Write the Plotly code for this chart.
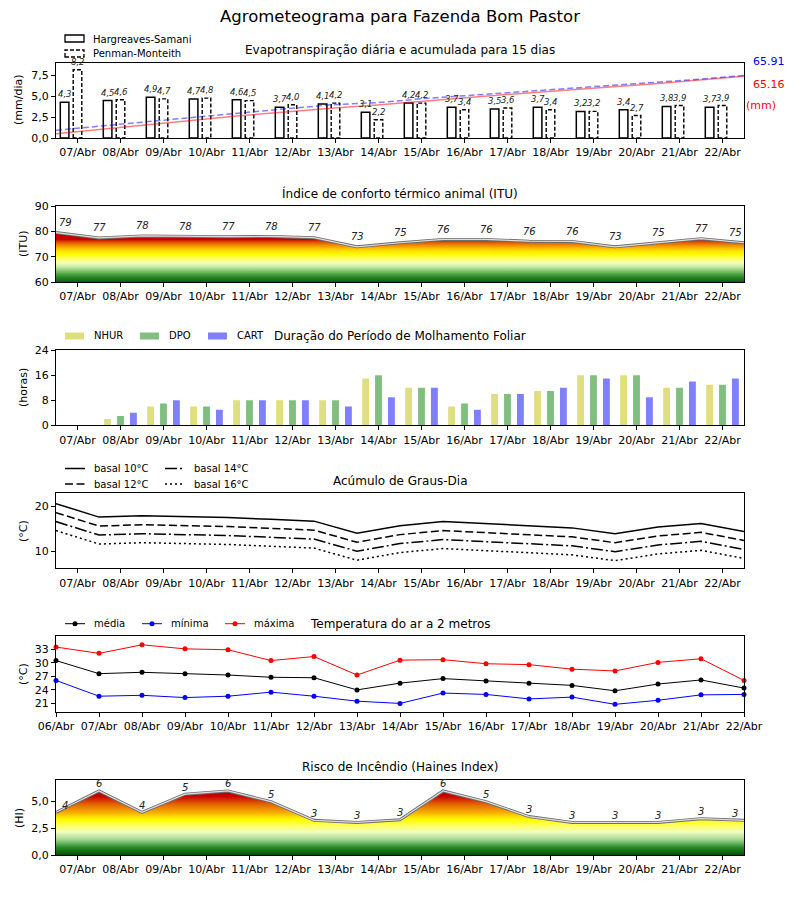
import plotly.graph_objects as go

OFF = 8  # default body margin of the html page
W, H = 800 - OFF, 900 - OFF
def px(x): return (x - OFF) / W
def py(y): return 1 - (y - OFF) / H

FONT = "DejaVu Sans"

# ---------------- data ----------------
day_labels = ['07/Abr', '08/Abr', '09/Abr', '10/Abr', '11/Abr', '12/Abr', '13/Abr', '14/Abr',
              '15/Abr', '16/Abr', '17/Abr', '18/Abr', '19/Abr', '20/Abr', '21/Abr', '22/Abr']
temp_labels = ['06/Abr'] + day_labels

hs_daily = [4.3, 4.5, 4.9, 4.7, 4.6, 3.7, 4.1, 3.1, 4.2, 3.7, 3.5, 3.7, 3.2, 3.4, 3.8, 3.7]
pm_daily = [8.2, 4.6, 4.7, 4.8, 4.5, 4.0, 4.2, 2.2, 4.2, 3.4, 3.6, 3.4, 3.2, 2.7, 3.9, 3.9]
hs_acum = [4.4, 9.0, 14.0, 18.8, 23.5, 27.3, 31.5, 34.7, 39.0, 42.8, 46.4, 50.2, 53.5, 57.0, 60.9, 65.16]
pm_acum = [8.2, 12.8, 17.5, 22.3, 26.8, 30.8, 35.0, 37.3, 41.5, 44.9, 48.5, 51.9, 55.2, 57.9, 61.9, 65.91]

itu = [79.5, 77.4, 78.2, 78.0, 77.9, 78.0, 77.5, 73.9, 75.5, 76.8, 76.8, 76.1, 76.0, 73.9, 75.5, 77.1, 75.5]

nhur = [0, 2, 6, 6, 8, 8, 8, 15, 12, 6, 10, 11, 16, 16, 12, 13]
dpo = [0, 3, 7, 6, 8, 8, 8, 16, 12, 7, 10, 11, 16, 16, 12, 13]
cart = [0, 4, 8, 5, 8, 8, 6, 9, 12, 5, 10, 12, 15, 9, 14, 15]

gd10 = [20.6, 17.6, 17.9, 17.7, 17.5, 17.1, 16.7, 14.0, 15.7, 16.6, 16.1, 15.7, 15.2, 13.9, 15.4, 16.2, 14.4]
gd12 = [18.6, 15.6, 15.9, 15.7, 15.5, 15.1, 14.7, 12.0, 13.7, 14.6, 14.1, 13.7, 13.2, 11.9, 13.4, 14.2, 12.4]
gd14 = [16.6, 13.6, 13.9, 13.7, 13.5, 13.1, 12.7, 10.0, 11.7, 12.6, 12.1, 11.7, 11.2, 9.9, 11.4, 12.2, 10.4]
gd16 = [14.6, 11.6, 11.9, 11.7, 11.5, 11.1, 10.7, 8.0, 9.7, 10.6, 10.1, 9.7, 9.2, 7.9, 9.4, 10.2, 8.4]

t_med = [30.5, 27.6, 27.9, 27.6, 27.3, 26.8, 26.7, 24.0, 25.5, 26.5, 26.0, 25.5, 25.0, 23.8, 25.3, 26.2, 24.4]
t_min = [26.1, 22.6, 22.8, 22.3, 22.6, 23.5, 22.6, 21.5, 21.0, 23.3, 23.0, 22.0, 22.4, 20.8, 21.7, 22.9, 23.0]
t_max = [33.5, 32.1, 34.0, 33.1, 32.9, 30.5, 31.4, 27.3, 30.6, 30.7, 29.8, 29.6, 28.6, 28.2, 30.1, 30.9, 26.1]

haines = [4.0, 6.0, 4.0, 5.7, 6.0, 5.0, 3.25, 3.05, 3.3, 6.0, 5.0, 3.6, 3.05, 3.05, 3.05, 3.4, 3.25]

n_days = len(day_labels)
pts = list(range(len(temp_labels)))          # 0..16
day_ticks = [i + 0.5 for i in range(n_days)]

def br(v):
    return f"{v:.1f}".replace('.', ',')

fig = go.Figure()
annotations = []
shapes = []

# ---------------- panel domains ----------------
XD = [px(56), px(744)]
dom = {
    1: [py(138), py(63)],
    2: [py(282), py(206)],
    3: [py(425.3), py(350.3)],
    4: [py(568.3), py(493.3)],
    5: [py(712), py(636)],
    6: [py(855), py(780.3)],
}

LBL = dict(size=8.5, family=FONT, color='#222', style='italic')

# ---------------- panel 1: ET ----------------
fig.add_trace(go.Bar(x=[i + 0.2 for i in range(n_days)], y=hs_daily, width=0.2,
                     marker=dict(color='white', line=dict(color='black', width=1.5)),
                     xaxis='x', yaxis='y', showlegend=False))
px_poly, py_poly = [], []
for i, v in enumerate(pm_daily):
    px_poly += [i + 0.4, i + 0.4, i + 0.6, i + 0.6, i + 0.4, None]
    py_poly += [0, v, v, 0, 0, None]
fig.add_trace(go.Scatter(x=px_poly, y=py_poly, mode='lines', fill='toself', fillcolor='white',
                         line=dict(color='black', width=1.4, dash='4px,2px'),
                         xaxis='x', yaxis='y', showlegend=False))
for i, v in enumerate(hs_daily):
    annotations.append(dict(x=i + 0.2, y=v, xref='x', yref='y', text=br(v), showarrow=False,
                            xanchor='center', yanchor='bottom', yshift=1, font=LBL))
for i, v in enumerate(pm_daily):
    annotations.append(dict(x=i + 0.5, y=v, xref='x', yref='y', text=br(v), showarrow=False,
                            xanchor='center', yanchor='bottom', yshift=1, font=LBL))

fig.add_trace(go.Scatter(x=list(range(n_days)), y=hs_acum, mode='lines',
                         line=dict(color='rgba(255,0,0,0.5)', width=1.5),
                         xaxis='x7', yaxis='y7', showlegend=False))
fig.add_trace(go.Scatter(x=list(range(n_days)), y=pm_acum, mode='lines',
                         line=dict(color='rgba(0,0,255,0.5)', width=1.5, dash='6px,3px'),
                         xaxis='x7', yaxis='y7', showlegend=False))
annotations += [
    dict(x=px(769), y=py(62), xref='paper', yref='paper', text=f"{pm_acum[-1]:.2f}", showarrow=False,
         xanchor='center', yanchor='middle', font=dict(size=11, family=FONT, color='blue')),
    dict(x=px(769), y=py(85), xref='paper', yref='paper', text=f"{hs_acum[-1]:.2f}", showarrow=False,
         xanchor='center', yanchor='middle', font=dict(size=11, family=FONT, color='red')),
    dict(x=px(761), y=py(106), xref='paper', yref='paper', text="(mm)", showarrow=False,
         xanchor='center', yanchor='middle', font=dict(size=11, family=FONT, color='red')),
]

# ---------------- panel 2: ITU ----------------
itu_cs = [
    [0.000, '#0a5f0a'], [0.075, '#1f7d1f'], [0.150, '#49a040'], [0.225, '#88c870'],
    [0.300, '#c8eca8'], [0.375, '#f0ffb8'], [0.450, '#ffff70'], [0.525, '#ffff10'],
    [0.600, '#ffe800'], [0.650, '#fcc800'], [0.700, '#f5a000'], [0.750, '#e87800'],
    [0.800, '#d84000'], [0.840, '#c80000'], [1.000, '#c00000']]
fig.add_trace(go.Scatter(x=pts, y=itu, mode='lines', line=dict(width=0), fill='tozeroy',
                         fillgradient=dict(type='vertical', colorscale=itu_cs, start=60, stop=80),
                         xaxis='x2', yaxis='y2', showlegend=False))
fig.add_trace(go.Scatter(x=pts, y=itu, mode='lines', line=dict(color='#6e6e6e', width=3),
                         xaxis='x2', yaxis='y2', showlegend=False))
fig.add_trace(go.Scatter(x=pts, y=itu, mode='lines', line=dict(color='#dcdcdc', width=1.2),
                         xaxis='x2', yaxis='y2', showlegend=False))
for i, v in enumerate(itu):
    xs = 9 if i == 0 else (-9 if i == len(itu) - 1 else 0)
    annotations.append(dict(x=i, y=v, xref='x2', yref='y2', text=str(int(v)), showarrow=False,
                            xanchor='center', yanchor='middle', yshift=10, xshift=xs,
                            font=dict(size=10, family=FONT, color='#222', style='italic')))

# ---------------- panel 3: molhamento ----------------
for vals, off, col in [(nhur, 0.2, '#dfdf80'), (dpo, 0.5, '#80bf80'), (cart, 0.8, '#8080ff')]:
    fig.add_trace(go.Bar(x=[i + off for i in range(n_days)], y=vals, width=0.16,
                         marker=dict(color=col, line=dict(width=0)),
                         xaxis='x3', yaxis='y3', showlegend=False))

# ---------------- panel 4: graus-dia ----------------
for vals, dash in [(gd10, 'solid'), (gd12, '8px,3.5px'), (gd14, '12px,3px,2px,3px'), (gd16, '2px,3px')]:
    fig.add_trace(go.Scatter(x=pts, y=vals, mode='lines', line=dict(color='black', width=1.5, dash=dash),
                             xaxis='x4', yaxis='y4', showlegend=False))

# ---------------- panel 5: temperatura ----------------
for vals, col in [(t_med, 'black'), (t_min, 'blue'), (t_max, 'red')]:
    fig.add_trace(go.Scatter(x=pts, y=vals, mode='lines+markers', line=dict(color=col, width=1),
                             marker=dict(color=col, size=5),
                             xaxis='x5', yaxis='y5', showlegend=False, cliponaxis=False))

# ---------------- panel 6: Haines ----------------
hi_cs = [
    [0.00, '#005200'], [0.12, '#2a8a2a'], [0.24, '#a0d890'], [0.36, '#f2ffc0'],
    [0.46, '#ffff60'], [0.55, '#ffff00'], [0.66, '#f8b000'], [0.80, '#e06000'],
    [0.92, '#c80000'], [1.00, '#c00000']]
fig.add_trace(go.Scatter(x=pts, y=haines, mode='lines', line=dict(width=0), fill='tozeroy',
                         fillgradient=dict(type='vertical', colorscale=hi_cs, start=0, stop=6),
                         xaxis='x6', yaxis='y6', showlegend=False))
fig.add_trace(go.Scatter(x=pts, y=haines, mode='lines', line=dict(color='#6e6e6e', width=3),
                         xaxis='x6', yaxis='y6', showlegend=False))
fig.add_trace(go.Scatter(x=pts, y=haines, mode='lines', line=dict(color='#dcdcdc', width=1.2),
                         xaxis='x6', yaxis='y6', showlegend=False))
for i, v in enumerate(haines):
    xs = 9 if i == 0 else (-9 if i == len(haines) - 1 else 0)
    annotations.append(dict(x=i, y=v, xref='x6', yref='y6', text=str(int(v)), showarrow=False,
                            xanchor='center', yanchor='middle', yshift=7, xshift=xs,
                            font=dict(size=10, family=FONT, color='#222', style='italic')))

# ---------------- axes ----------------
axcommon = dict(showline=True, mirror=True, linecolor='black', linewidth=1.2, ticks='outside',
                ticklen=4, tickwidth=1, tickcolor='black', showgrid=False, zeroline=False,
                automargin=False, tickfont=dict(size=11, family=FONT, color='black'))
layout = {}
for k in range(1, 7):
    xn = 'xaxis' if k == 1 else f'xaxis{k}'
    yn = 'yaxis' if k == 1 else f'yaxis{k}'
    yref = 'y' if k == 1 else f'y{k}'
    xref = 'x' if k == 1 else f'x{k}'
    if k == 5:
        tv, tt = pts, temp_labels
    else:
        tv, tt = day_ticks, day_labels
    layout[xn] = dict(axcommon, domain=XD, anchor=yref, range=[0, 16], tickvals=tv, ticktext=tt)
    layout[yn] = dict(axcommon, domain=dom[k], anchor=xref)

layout['yaxis'].update(range=[0, 9.02], tickvals=[0, 2.5, 5, 7.5], ticktext=['0,0', '2,5', '5,0', '7,5'])
layout['yaxis2'].update(range=[60, 90], tickvals=[60, 70, 80, 90])
layout['yaxis3'].update(range=[0, 24], tickvals=[0, 8, 16, 24])
layout['yaxis4'].update(range=[6.2, 22.9], tickvals=[10, 20])
layout['yaxis5'].update(range=[19.1, 35.95], tickvals=[21, 24, 27, 30, 33])
layout['yaxis6'].update(range=[0, 7], tickvals=[0, 2.5, 5], ticktext=['0,0', '2,5', '5,0'])
layout['xaxis7'] = dict(overlaying='x', anchor='y7', range=[0, 15], visible=False, domain=XD, automargin=False)
layout['yaxis7'] = dict(overlaying='y', anchor='x7', range=[0, 79.1], visible=False, domain=dom[1], automargin=False)

# ---------------- titles ----------------
annotations.append(dict(x=px(400), y=py(17), xref='paper', yref='paper', text='Agrometeograma para Fazenda Bom Pastor',
                        showarrow=False, xanchor='center', yanchor='middle',
                        font=dict(size=16.5, family=FONT, color='black')))
sub = [(50, 'Evapotranspiração diária e acumulada para 15 dias'),
       (193, 'Índice de conforto térmico animal (ITU)'),
       (336, 'Duração do Período de Molhamento Foliar'),
       (481, 'Acúmulo de Graus-Dia'),
       (624, 'Temperatura do ar a 2 metros'),
       (767, 'Risco de Incêndio (Haines Index)')]
for y, t in sub:
    annotations.append(dict(x=px(400), y=py(y), xref='paper', yref='paper', text=t, showarrow=False,
                            xanchor='center', yanchor='middle', font=dict(size=12, family=FONT, color='black')))
ylab = [(19, 100, '(mm/dia)'), (23, 244, '(ITU)'), (23, 388, '(horas)'), (23, 531, '(°C)'),
        (23, 674, '(°C)'), (19, 818, '(HI)')]
for x, y, t in ylab:
    annotations.append(dict(x=px(x), y=py(y), xref='paper', yref='paper', text=t, showarrow=False,
                            xanchor='center', yanchor='middle',
                            textangle=-90, font=dict(size=11, family=FONT, color='black')))

# ---------------- manual legends ----------------
LF = dict(size=10, family=FONT, color='black')
def leg_text(x, y, t):
    annotations.append(dict(x=px(x), y=py(y), xref='paper', yref='paper', text=t, showarrow=False,
                            xanchor='left', yanchor='middle', font=LF))

# panel 1
shapes.append(dict(type='rect', xref='paper', yref='paper', x0=px(65), x1=px(84), y0=py(42), y1=py(35),
                   line=dict(color='black', width=1.3), fillcolor='white'))
shapes.append(dict(type='rect', xref='paper', yref='paper', x0=px(65), x1=px(84), y0=py(57), y1=py(50),
                   line=dict(color='black', width=1.3, dash='4px,2px'), fillcolor='white'))
leg_text(91, 39, 'Hargreaves-Samani')
leg_text(91, 53.5, 'Penman-Monteith')

# panel 3
for x0, col, t in [(65, '#dfdf80', 'NHUR'), (140, '#80bf80', 'DPO'), (208, '#8080ff', 'CART')]:
    shapes.append(dict(type='rect', xref='paper', yref='paper', x0=px(x0), x1=px(x0 + 19), y0=py(339.5),
                       y1=py(332.5), line=dict(width=0), fillcolor=col))
    leg_text(x0 + 27, 336, t)

# panel 4
for x0, y0, dash, t in [(65, 468.5, 'solid', 'basal 10°C'), (65, 484, '8px,3.5px', 'basal 12°C'),
                        (165, 468.5, '12px,3px,2px,3px', 'basal 14°C'), (165, 484, '2px,3px', 'basal 16°C')]:
    shapes.append(dict(type='line', xref='paper', yref='paper', x0=px(x0), x1=px(x0 + 20), y0=py(y0), y1=py(y0),
                       line=dict(color='black', width=1.5, dash=dash)))
    leg_text(x0 + 27, y0, t)

# panel 5
for x0, col, t in [(65, 'black', 'média'), (142, 'blue', 'mínima'), (225, 'red', 'máxima')]:
    shapes.append(dict(type='line', xref='paper', yref='paper', x0=px(x0), x1=px(x0 + 20), y0=py(623.7),
                       y1=py(623.7), line=dict(color=col, width=1)))
    shapes.append(dict(type='circle', xref='paper', yref='paper', x0=px(x0 + 10 - 2.5), x1=px(x0 + 10 + 2.5),
                       y0=py(623.7 + 2.5), y1=py(623.7 - 2.5), line=dict(color=col, width=0), fillcolor=col))
    leg_text(x0 + 27, 623.7, t)

fig.update_layout(width=W, height=H, autosize=False, margin=dict(l=0, r=0, t=0, b=0),
                  paper_bgcolor='white', plot_bgcolor='white', showlegend=False, barmode='overlay',
                  annotations=annotations, shapes=shapes, font=dict(family=FONT), **layout)

fig.write_html("out.html")
